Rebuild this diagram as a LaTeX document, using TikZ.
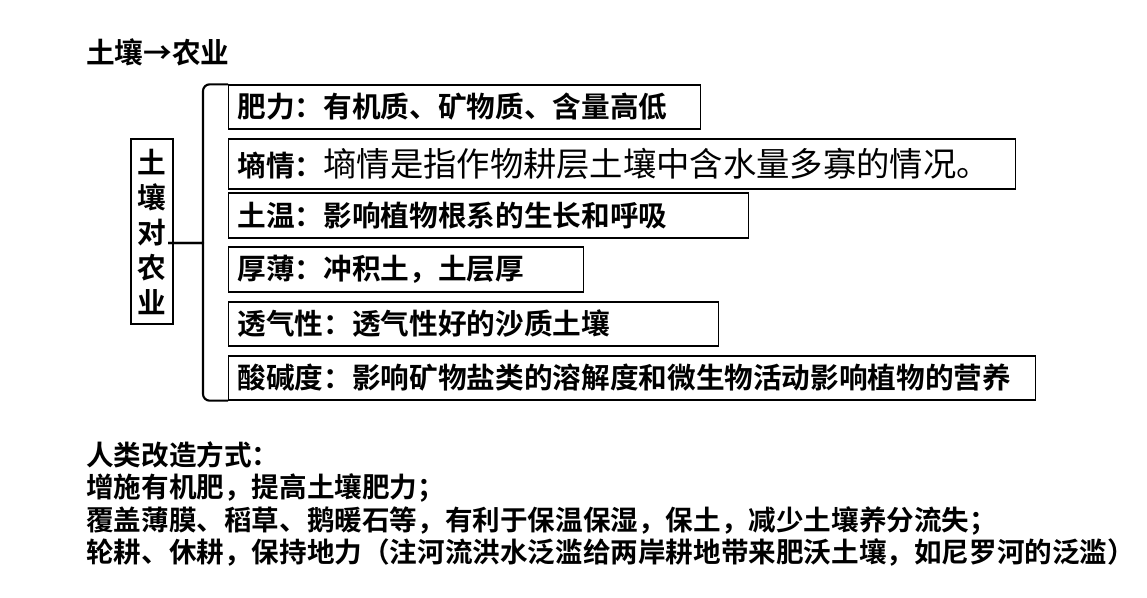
\documentclass[tikz,border=0pt]{standalone}
\usepackage{fontspec}
\setmainfont{Noto Sans CJK SC}[BoldFont={Noto Sans CJK SC Bold}]
\newfontfamily\plaincjk{Noto Sans CJK SC}

\begin{document}
\begin{tikzpicture}[x=0.75pt,y=-0.75pt,
  item/.style={draw,line width=1pt,anchor=west,inner xsep=6.5pt,inner ysep=0pt,
    align=left,font=\bfseries\fontsize{21.5}{26}\selectfont},
  brace/.style={line width=1.6pt,rounded corners=5pt},
  lbl/.style={font=\bfseries\fontsize{21.5}{26.25}\selectfont}]
  \useasboundingbox (0,0) rectangle (1147,597);
  % ---------- title ----------
  \node[lbl,anchor=west,inner sep=0pt] (title) at (86,52) {土壤→农业};
  % ---------- left column ----------
  \node[draw,line width=1pt,lbl,align=center,inner sep=0pt,
    minimum width=31.5pt,minimum height=138.75pt] (soil) at (152,231.5)
    {土\\壤\\对\\农\\业};
  % ---------- factors ----------
  \node[item,text width=341pt,minimum height=33pt] (fert) at (228,107)
    {肥力：有机质、矿物质、含量高低};
  \node[item,text width=577pt,minimum height=37.5pt] (moist) at (228,164)
    {墒情：{\plaincjk\mdseries\fontsize{25}{29}\selectfont 墒情是指作物耕层土壤中含水量多寡的情况。}};
  \node[item,text width=377pt,minimum height=33.75pt] (temp) at (228,215.5)
    {土温：影响植物根系的生长和呼吸};
  \node[item,text width=253pt,minimum height=33.75pt] (depth) at (228,269.5)
    {厚薄：冲积土，土层厚};
  \node[item,text width=354.5pt,minimum height=33pt] (air) at (228,324)
    {透气性：透气性好的沙质土壤};
  \node[item,text width=592pt,minimum height=33pt] (acid) at (228,378)
    {酸碱度：影响矿物盐类的溶解度和微生物活动影响植物的营养};
  % ---------- brace ----------
  \coordinate (tip) at (168,243);
  \draw[brace] (fert.north west) -| (203,236) .. controls (203,243) .. (193,243) -- (tip);
  \draw[brace] (tip) -- (193,243) .. controls (203,243) .. (203,250) |- (acid.south west);
  % ---------- ways ----------
  \node[anchor=north west,inner sep=0pt,align=left,
    font=\bfseries\fontsize{20.7}{24.4}\selectfont] (ways) at (86,441)
    {人类改造方式：\\
     增施有机肥，提高土壤肥力；\\
     覆盖薄膜、稻草、鹅暖石等，有利于保温保湿，保土，减少土壤养分流失；\\
     轮耕、休耕，保持地力（注河流洪水泛滥给两岸耕地带来肥沃土壤，如尼罗河的泛滥）};
\end{tikzpicture}
\end{document}
